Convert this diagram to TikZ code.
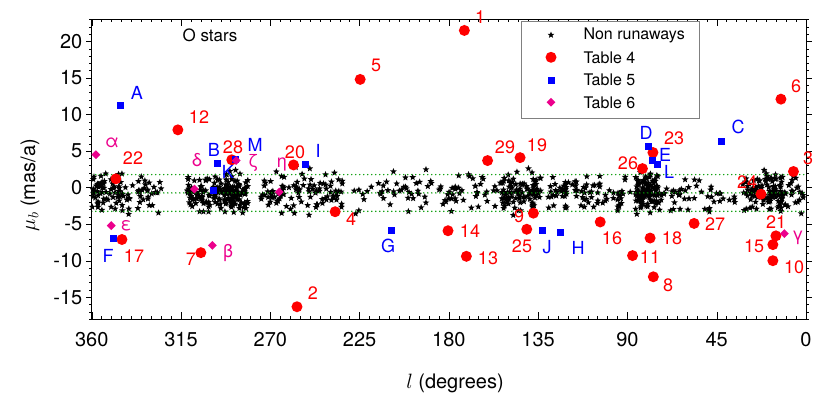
\documentclass[tikz,border=0pt]{standalone}
\usepackage{fontspec}
\setmainfont{TeX Gyre Heros}
\usetikzlibrary{shapes.geometric}

\tikzset{
    starmark/.style={star, star points=5, star point ratio=2.3, fill=black, inner sep=0pt, minimum size=7pt},
    tabfour/.style={circle, fill=red, inner sep=0pt, minimum size=11pt},
    tabfive/.style={rectangle, fill=blue, inner sep=0pt, minimum size=7pt},
    tabsix/.style={diamond, fill=magenta, inner sep=0pt, minimum size=9pt},
    redlab/.style={text=red, font=\fontsize{18}{18}\selectfont},
    bluelab/.style={text=blue, font=\fontsize{18}{18}\selectfont},
    maglab/.style={text=magenta, font=\fontsize{18}{18}\selectfont},
    ticklab/.style={font=\fontsize{20}{20}\selectfont},
    legtext/.style={anchor=west, font=\fontsize{16}{16}\selectfont},
    band/.style={draw=green!60!black, line width=1.6pt, line cap=round, dash pattern=on 0pt off 4pt}
}

\begin{document}
\begin{tikzpicture}[x=1pt, y=-1pt]
    \useasboundingbox (0,0) rectangle (830,415);

    % axes: l runs from 360 (left) to 0 (right)
    \begin{scope}[x=-1.984pt, y=7.31pt, shift={(806pt,-187.6pt)}]
        \pgfmathsetseed{11}
        \foreach \c/\w/\n in {352/8/65, 335/10/40, 300/12/110, 287/6/75, 265/10/50,
            245/12/50, 215/20/30, 190/12/25, 165/15/40, 145/8/70, 125/15/65,
            100/12/40, 80/6/100, 65/10/30, 45/10/20, 22/10/95, 8/7/40}
        {
            \foreach \k in {1,...,\n}
            {
                \pgfmathsetmacro\sx{\c+\w*rand}
                \pgfmathsetmacro\sy{-0.7+1.25*(rand+rand+rand)}
                \node[starmark] at (\sx,\sy) {};
            }
        }

        \draw[band] (360,1.78) -- (0,1.78);
        \draw[band] (360,-0.73) -- (0,-0.73);
        \draw[band] (360,-3.24) -- (0,-3.24);

        % frame and ticks
        \draw[line width=0.6pt] (360,-18) rectangle (0,23);
        \foreach \l in {0,5,...,360}
        {
            \draw (\l,-18) -- ++(0,3pt) (\l,23) -- ++(0,-3pt);
        }
        \foreach \l in {0,45,...,360}
        {
            \draw (\l,-18) -- ++(0,7pt) (\l,23) -- ++(0,-7pt);
            \node[ticklab, anchor=north] at (\l,-19.3) {\l};
        }
        \foreach \m in {-18,...,23}
        {
            \draw (360,\m) -- ++(-3pt,0) (0,\m) -- ++(3pt,0);
        }
        \foreach \m in {-15,-10,...,20}
        {
            \draw (360,\m) -- ++(-6pt,0) (0,\m) -- ++(6pt,0);
            \node[ticklab, anchor=east] at (363,\m) {\m};
        }
    \end{scope}

    % runaway candidates
    \begin{scope}[x=-2.019pt, y=7.31pt, shift={(819.5pt,-187.6pt)}]
        % Table 4
        \node[tabfour] (p1) at (175.9,21.5) {};
        \node[tabfour] (p2) at (258.8,-16.3) {};
        \node[tabfour] (p3) at (12.9,2.2) {};
        \node[tabfour] (p4) at (239.9,-3.3) {};
        \node[tabfour] (p5) at (227.5,14.8) {};
        \node[tabfour] (p6) at (19.1,12.1) {};
        \node[tabfour] (p7) at (306.4,-8.9) {};
        \node[tabfour] (p8) at (82.3,-12.2) {};
        \node[tabfour] (p9) at (141.7,-3.5) {};
        \node[tabfour] (p10) at (23.1,-10.0) {};
        \node[tabfour] (p11) at (92.6,-9.3) {};
        \node[tabfour] (p12) at (317.8,7.9) {};
        \node[tabfour] (p13) at (174.9,-9.4) {};
        \node[tabfour] (p14) at (184.0,-5.9) {};
        \node[tabfour] (p15) at (23.1,-7.8) {};
        \node[tabfour] (p16) at (108.6,-4.7) {};
        \node[tabfour] (p17) at (345.5,-7.1) {};
        \node[tabfour] (p18) at (83.9,-6.9) {};
        \node[tabfour] (p19) at (148.3,4.1) {};
        \node[tabfour] (p20) at (260.5,3.1) {};
        \node[tabfour] (p21) at (21.6,-6.6) {};
        \node[tabfour] (p22) at (348.5,1.2) {};
        \node[tabfour] (p23) at (82.5,4.8) {};
        \node[tabfour] (p24) at (29.0,-0.9) {};
        \node[tabfour] (p25) at (145.0,-5.7) {};
        \node[tabfour] (p26) at (87.7,2.6) {};
        \node[tabfour] (p27) at (62.1,-4.9) {};
        \node[tabfour] (p28) at (291.1,3.8) {};
        \node[tabfour] (p29) at (164.4,3.7) {};

        % Table 5
        \node[tabfive] (qA) at (346.0,11.2) {};
        \node[tabfive] (qB) at (298.2,3.3) {};
        \node[tabfive] (qC) at (48.7,6.3) {};
        \node[tabfive] (qD) at (84.7,5.6) {};
        \node[tabfive] (qE) at (82.7,3.7) {};
        \node[tabfive] (qF) at (349.7,-7.0) {};
        \node[tabfive] (qG) at (212.0,-5.9) {};
        \node[tabfive] (qH) at (128.1,-6.2) {};
        \node[tabfive] (qI) at (254.7,3.1) {};
        \node[tabfive] (qJ) at (137.4,-5.8) {};
        \node[tabfive] (qK) at (300.2,-0.4) {};
        \node[tabfive] (qL) at (80.0,3.1) {};
        \node[tabfive] (qM) at (289.5,3.8) {};

        % Table 6
        \node[tabsix] (ralpha) at (358.4,4.5) {};
        \node[tabsix] (rbeta) at (300.7,-7.9) {};
        \node[tabsix] (rgamma) at (17.4,-6.3) {};
        \node[tabsix] (rdelta) at (309.6,-0.2) {};
        \node[tabsix] (reps) at (350.8,-5.2) {};
        \node[tabsix] (rzeta) at (288.9,3.7) {};
        \node[tabsix] (reta) at (267.6,-0.6) {};
    \end{scope}

    % point labels
    \node[redlab] at (480,17) {1};
    \node[redlab] at (313,293) {2};
    \node[redlab] at (808,158) {3};
    \node[redlab] at (351,219) {4};
    \node[redlab] at (376,65) {5};
    \node[redlab] at (796,86) {6};
    \node[redlab] at (191,259) {7};
    \node[redlab] at (668,285) {8};
    \node[redlab] at (519,216) {9};
    \node[redlab] at (794,267) {10};
    \node[redlab] at (650,257) {11};
    \node[redlab] at (199,117) {12};
    \node[redlab] at (488,258) {13};
    \node[redlab] at (470,231) {14};
    \node[redlab] at (754,246) {15};
    \node[redlab] at (612,238) {16};
    \node[redlab] at (134,256) {17};
    \node[redlab] at (672,238) {18};
    \node[redlab] at (537,145) {19};
    \node[redlab] at (295,152) {20};
    \node[redlab] at (776,222) {21};
    \node[redlab] at (133,158) {22};
    \node[redlab] at (674,138) {23};
    \node[redlab] at (747,182) {24};
    \node[redlab] at (522,246) {25};
    \node[redlab] at (628,163) {26};
    \node[redlab] at (715,224) {27};
    \node[redlab] at (233,147) {28};
    \node[redlab] at (505,147) {29};

    \node[bluelab] at (137,93) {A};
    \node[bluelab] at (214,150) {B};
    \node[bluelab] at (738,127) {C};
    \node[bluelab] at (646,133) {D};
    \node[bluelab] at (665,155) {E};
    \node[bluelab] at (108,256) {F};
    \node[bluelab] at (388,246) {G};
    \node[bluelab] at (578,248) {H};
    \node[bluelab] at (318,151) {I};
    \node[bluelab] at (547,247) {J};
    \node[bluelab] at (228,172) {K};
    \node[bluelab] at (669,172) {L};
    \node[bluelab] at (255,145) {M};

    \node[maglab] at (112,143) {α};
    \node[maglab] at (228,253) {β};
    \node[maglab] at (798,238) {γ};
    \node[maglab] at (197,160) {δ};
    \node[maglab] at (126,226) {ε};
    \node[maglab] at (253,163) {ζ};
    \node[maglab] at (282,164) {η};

    \node[font=\fontsize{17}{17}\selectfont] (title) at (210,35) {O stars};

    % legend
    \draw[fill=white, draw=gray] (520.7,20.7) rectangle (699,118.3);
    \node[starmark] (kstar) at (551,35) {};
    \node[tabfour] (kfour) at (551,57.3) {};
    \node[tabfive] (kfive) at (551,80) {};
    \node[tabsix] (ksix) at (551,102.3) {};
    \node[legtext] at (580,35) {Non runaways};
    \node[legtext] at (580,57.3) {Table 4};
    \node[legtext] at (580,80) {Table 5};
    \node[legtext] at (580,102.3) {Table 6};

    % axis titles
    \node[ticklab, rotate=90] (ytitle) at (30,185) {$\mu_b$ (mas/a)};
    \node[ticklab] (xtitle) at (455,383) {$l$ (degrees)};
\end{tikzpicture}
\end{document}
